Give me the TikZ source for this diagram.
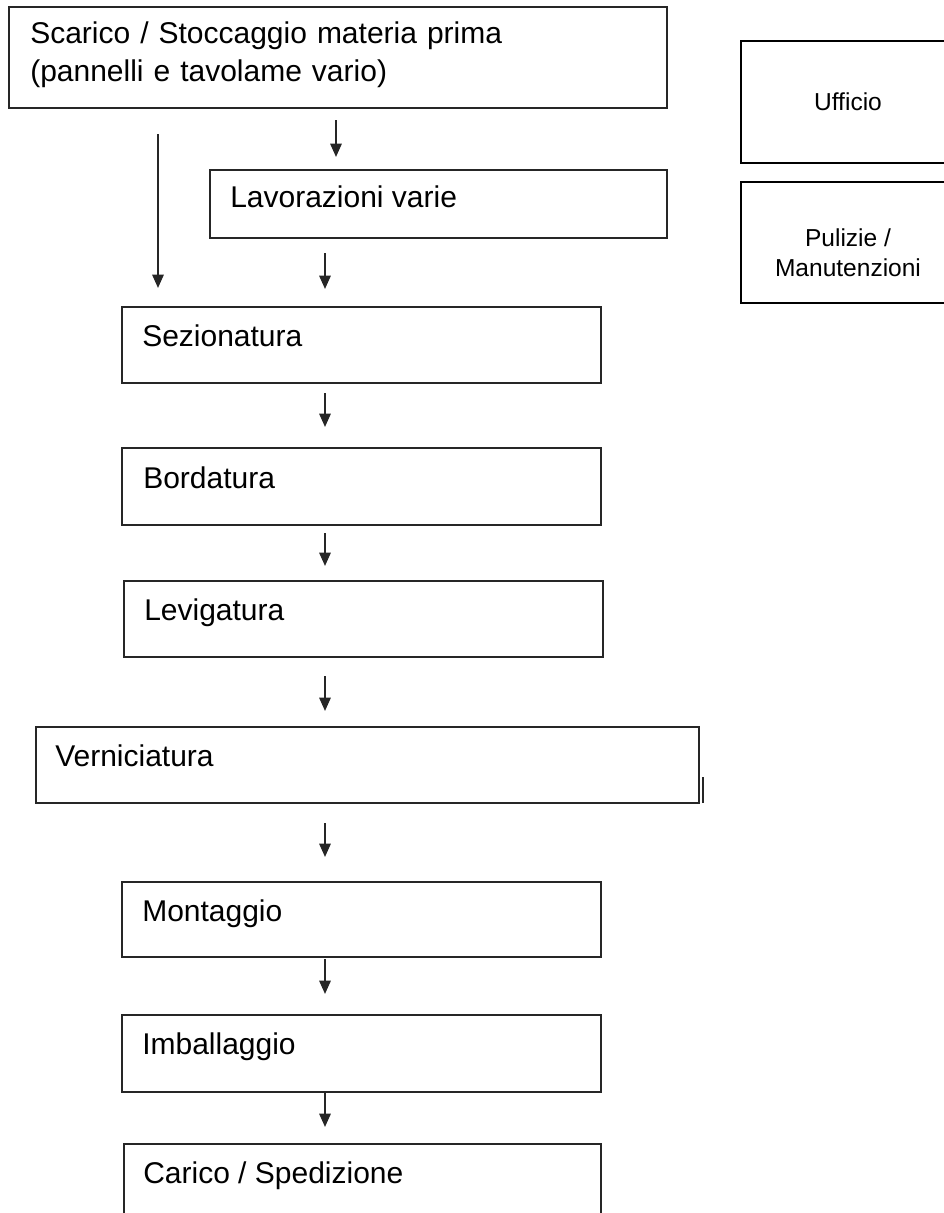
\documentclass[tikz,border=0pt]{standalone}
\usepackage{fontspec}
\setmainfont{Liberation Sans}
\usetikzlibrary{arrows.meta,fit}
\begin{document}
\begin{tikzpicture}[x=0.75pt,y=-0.75pt,
  box/.style={draw=black!85, line width=1.5pt, inner sep=0pt},
  sidebox/.style={draw=black, line width=1.5pt, inner sep=0pt},
  lbl/.style={anchor=base west, inner sep=0pt, font=\fontsize{22.5}{28.5}\selectfont},
  sidelbl/.style={anchor=center, inner sep=0pt, align=center, font=\fontsize{18.4}{22.5}\selectfont},
  arr/.style={draw=black!85, line width=1.5pt, -{Triangle[length=10pt,width=8.5pt]}}]
\useasboundingbox (0,0) rectangle (944,1213);

% boxes
\node[box, fit={(9,7) (667,108)}] (scarico) {};
\node[box, fit={(210,170) (667,238)}] (lav) {};
\node[box, fit={(122,307) (601,383)}] (sez) {};
\node[box, fit={(122,448) (601,525)}] (bord) {};
\node[box, fit={(124,581) (603,657)}] (lev) {};
\node[box, fit={(36,727) (699,803)}] (vern) {};
\node[box, fit={(122,882) (601,957)}] (mont) {};
\node[box, fit={(122,1015) (601,1092)}] (imb) {};
\node[box, fit={(124,1144) (601,1240)}] (car) {};
\node[sidebox, fit={(741,41) (955,163)}] (uff) {};
\node[sidebox, fit={(741,182) (955,303)}] (pul) {};

% labels
\node[lbl, text width=480pt, align=left] (tscarico) at (30,44) {Scarico / Stoccaggio materia prima\\(pannelli e tavolame vario)};
\node[lbl] (tlav) at (230,207) {Lavorazioni varie};
\node[lbl] (tsez) at (142,346) {Sezionatura};
\node[lbl] (tbord) at (143,488) {Bordatura};
\node[lbl] (tlev) at (144,620) {Levigatura};
\node[lbl] (tvern) at (55,766) {Verniciatura};
\node[lbl] (tmont) at (142,921) {Montaggio};
\node[lbl] (timb) at (142,1054) {Imballaggio};
\node[lbl] (tcar) at (143,1183) {Carico / Spedizione};
\node[sidelbl] (tuff) at (848,102) {Ufficio};
\node[sidelbl] (tpul) at (848,253) {Pulizie /\\Manutenzioni};

% arrow columns
\coordinate (xa) at (158,0);
\coordinate (xb) at (336,0);
\coordinate (xc) at (325,0);

% connectors
\draw[arr, shorten <=18.75pt, shorten >=13.5pt] (scarico.south -| xa) -- (sez.north -| xa);
\draw[arr, shorten <=8.25pt, shorten >=9pt] (scarico.south -| xb) -- (lav.north -| xb);
\draw[arr, shorten <=10.5pt, shorten >=12.75pt] (lav.south -| xc) -- (sez.north -| xc);
\draw[arr, shorten <=6.75pt, shorten >=15pt] (sez.south -| xc) -- (bord.north -| xc);
\draw[arr, shorten <=5.25pt, shorten >=10.5pt] (bord.south -| xc) -- (lev.north -| xc);
\draw[arr, shorten <=13.5pt, shorten >=11.25pt] (lev.south -| xc) -- (vern.north -| xc);
\draw[arr, shorten <=14.25pt, shorten >=18pt] (vern.south -| xc) -- (mont.north -| xc);
\draw[arr, shorten <=0.75pt, shorten >=15pt] (mont.south -| xc) -- (imb.north -| xc);
\draw[arr, shorten >=12pt] (imb.south -| xc) -- (car.north -| xc);

% stray mark at the lower right corner of Verniciatura
\draw[black!85, line width=1.5pt] ([xshift=2.25pt,yshift=0.75pt]vern.south east) -- ++(0,-26);
\end{tikzpicture}
\end{document}
